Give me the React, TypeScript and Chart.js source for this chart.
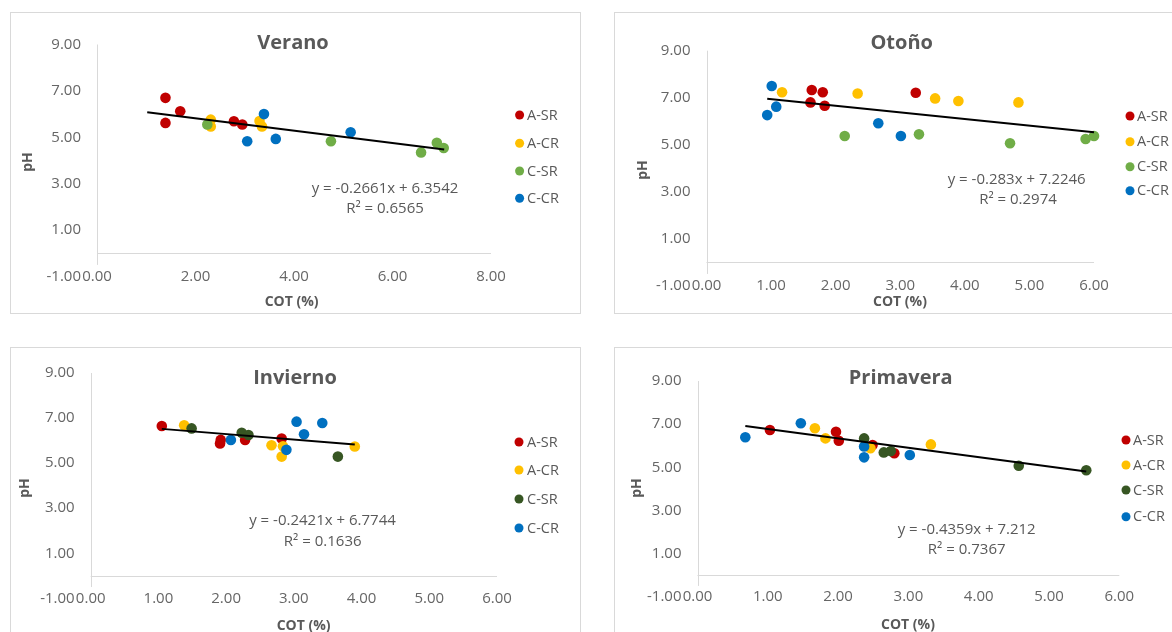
import React, { useEffect, useRef } from 'react';
import { Chart, registerables } from 'chart.js';

Chart.register(...registerables);

// ---------- data ----------
const SERIES_NAMES = ['A-SR', 'A-CR', 'C-SR', 'C-CR'];
const Y_TICKS_MIN = -1;
const Y_TICKS_MAX = 9;
const Y_STEP = 2;

// Verano
const veranoASR: [number, number][] = [[1.39, 6.70], [1.39, 5.62], [1.69, 6.12], [2.78, 5.69], [2.95, 5.55]];
const veranoACR: [number, number][] = [[2.31, 5.76], [2.31, 5.47], [3.30, 5.70], [3.35, 5.47]];
const veranoCSR: [number, number][] = [[2.24, 5.55], [4.75, 4.83], [6.58, 4.35], [6.90, 4.76], [7.04, 4.54]];
const veranoCCR: [number, number][] = [[3.39, 6.00], [3.05, 4.83], [3.63, 4.93], [5.15, 5.22]];
const veranoTrend: [number, number][] = [[1.02, 6.083], [7.05, 4.478]];
const veranoEq = ['y = -0.2661x + 6.3542', 'R² = 0.6565'];

// Otoño
const otonoASR: [number, number][] = [[1.63, 7.33], [1.80, 7.23], [1.61, 6.80], [1.83, 6.66], [3.24, 7.21]];
const otonoACR: [number, number][] = [[1.17, 7.23], [2.34, 7.18], [3.54, 6.97], [3.90, 6.86], [4.83, 6.80]];
const otonoCSR: [number, number][] = [[2.14, 5.37], [3.29, 5.44], [4.70, 5.06], [5.87, 5.24], [6.00, 5.37]];
const otonoCCR: [number, number][] = [[1.01, 7.50], [1.08, 6.62], [0.94, 6.26], [2.66, 5.91], [3.01, 5.37]];
const otonoTrend: [number, number][] = [[0.94, 6.959], [6.0, 5.527]];
const otonoEq = ['y = -0.283x + 7.2246', 'R² = 0.2974'];

// Invierno
const inviernoASR: [number, number][] = [[1.05, 6.65], [1.91, 5.87], [1.92, 6.03], [2.28, 6.03], [2.82, 6.09]];
const inviernoACR: [number, number][] = [[1.38, 6.68], [2.67, 5.79], [2.82, 5.29], [2.84, 5.75], [3.90, 5.74]];
const inviernoCSR: [number, number][] = [[1.49, 6.54], [2.23, 6.35], [2.33, 6.25], [3.65, 5.29]];
const inviernoCCR: [number, number][] = [[2.07, 6.03], [3.04, 6.84], [3.15, 6.28], [3.42, 6.78], [2.89, 5.59]];
const inviernoTrend: [number, number][] = [[1.05, 6.520], [3.90, 5.830]];
const inviernoEq = ['y = -0.2421x + 6.7744', 'R² = 0.1636'];

// Primavera
const primaveraASR: [number, number][] = [[1.03, 6.73], [1.97, 6.65], [2.01, 6.23], [2.49, 6.03], [2.80, 5.65]];
const primaveraACR: [number, number][] = [[1.67, 6.81], [1.82, 6.34], [2.46, 5.88], [3.32, 6.06]];
const primaveraCSR: [number, number][] = [[2.37, 6.34], [2.65, 5.69], [2.75, 5.75], [4.57, 5.07], [5.53, 4.86]];
const primaveraCCR: [number, number][] = [[0.68, 6.39], [1.47, 7.04], [2.37, 5.96], [2.37, 5.46], [3.02, 5.57]];
const primaveraTrend: [number, number][] = [[0.68, 6.916], [5.53, 4.801]];
const primaveraEq = ['y = -0.4359x + 7.212', 'R² = 0.7367'];

// ---------- styles ----------
const FONT = '"Open Sans", "Noto Sans", sans-serif';
const TEXT = '#595959';
const TICK = '#666666';
const AXIS = '#d9d9d9';
const COLORS_LIGHT = ['#c00000', '#ffc000', '#70ad47', '#0070c0'];
const COLORS_DARK = ['#c00000', '#ffc000', '#375623', '#0070c0'];
const TICK_SIZE = 15;

const CW = 569;
const CH = 300;

type Panel = {
  title: string;
  series: [number, number][][];
  trend: [number, number][];
  eq: string[];
  xMax: number;
  xStep: number;
  colors: string[];
  box: { left: number; top: number };
  area: { left: number; top: number; right: number; bottom: number };
  titlePos: [number, number];
  legendX: number;
  legendTextX: number;
  legendRows: number[];
  eqPos: [number, number];
  r2Pos: [number, number];
  phPos: [number, number];
  cotPos: [number, number];
};

const PANELS: Panel[] = [
  {
    title: 'Verano',
    series: [veranoASR, veranoACR, veranoCSR, veranoCCR],
    trend: veranoTrend, eq: veranoEq, xMax: 8, xStep: 2, colors: COLORS_LIGHT,
    box: { left: 10, top: 12 },
    area: { left: 86, top: 31.5, right: 480, bottom: 263.5 },
    titlePos: [282, 30], legendX: 508.6, legendTextX: 516, legendRows: [102, 130.3, 158, 185.3],
    eqPos: [374, 176], r2Pos: [374, 196], phPos: [17, 149], cotPos: [280.6, 288.7],
  },
  {
    title: 'Otoño',
    series: [otonoASR, otonoACR, otonoCSR, otonoCCR],
    trend: otonoTrend, eq: otonoEq, xMax: 6, xStep: 1, colors: COLORS_LIGHT,
    box: { left: 614, top: 12 },
    area: { left: 91.5, top: 37.7, right: 479, bottom: 272.7 },
    titlePos: [286.7, 30.3], legendX: 515, legendTextX: 522, legendRows: [103, 128.7, 153.7, 177.7],
    eqPos: [401.7, 167], r2Pos: [403, 187], phPos: [28.3, 157], cotPos: [285, 288.7],
  },
  {
    title: 'Invierno',
    series: [inviernoASR, inviernoACR, inviernoCSR, inviernoCCR],
    trend: inviernoTrend, eq: inviernoEq, xMax: 6, xStep: 1, colors: COLORS_DARK,
    box: { left: 10, top: 347 },
    area: { left: 79.7, top: 23.7, right: 486, bottom: 250.3 },
    titlePos: [284, 30.3], legendX: 508, legendTextX: 516, legendRows: [94, 122, 151, 180],
    eqPos: [311.5, 173], r2Pos: [311.7, 193.7], phPos: [14, 140], cotPos: [292.6, 278],
  },
  {
    title: 'Primavera',
    series: [primaveraASR, primaveraACR, primaveraCSR, primaveraCCR],
    trend: primaveraTrend, eq: primaveraEq, xMax: 6, xStep: 1, colors: COLORS_DARK,
    box: { left: 614, top: 347 },
    area: { left: 82.5, top: 33, right: 504.3, bottom: 248.7 },
    titlePos: [285.7, 30.3], legendX: 511, legendTextX: 518, legendRows: [92, 117, 142, 168.7],
    eqPos: [351.7, 181.3], r2Pos: [351.7, 202], phPos: [21.7, 140], cotPos: [293, 277],
  },
];

function makeDecor(p: Panel) {
  return {
    id: 'decor',
    beforeDatasetsDraw(chart: any) {
      const { ctx, scales } = chart;
      const x = scales.x;
      const y = scales.y;
      ctx.save();
      ctx.strokeStyle = AXIS;
      ctx.lineWidth = 1;
      const y0 = Math.round(y.getPixelForValue(0)) + 0.5;
      ctx.beginPath();
      ctx.moveTo(x.getPixelForValue(0), y0);
      ctx.lineTo(x.getPixelForValue(p.xMax), y0);
      ctx.stroke();
      const x0 = Math.round(x.getPixelForValue(0)) + 0.5;
      ctx.beginPath();
      ctx.moveTo(x0, y.getPixelForValue(Y_TICKS_MAX));
      ctx.lineTo(x0, y.getPixelForValue(-0.5));
      ctx.stroke();
      ctx.restore();
    },
    afterDraw(chart: any) {
      const { ctx } = chart;
      ctx.save();
      ctx.fillStyle = TEXT;
      ctx.textAlign = 'center';
      ctx.textBaseline = 'middle';
      ctx.font = `bold 20px ${FONT}`;
      ctx.fillText(p.title, p.titlePos[0], p.titlePos[1]);
      ctx.font = `bold 14px ${FONT}`;
      ctx.fillText('COT (%)', p.cotPos[0], p.cotPos[1]);
      ctx.save();
      ctx.translate(p.phPos[0], p.phPos[1]);
      ctx.rotate(-Math.PI / 2);
      ctx.fillText('pH', 0, 0);
      ctx.restore();
      ctx.font = `15px ${FONT}`;
      ctx.fillText(p.eq[0], p.eqPos[0], p.eqPos[1]);
      ctx.fillText(p.eq[1], p.r2Pos[0], p.r2Pos[1]);
      ctx.textAlign = 'left';
      ctx.font = `14.5px ${FONT}`;
      chart.data.datasets.forEach((ds: any, i: number) => {
        if (ds.isTrend) return;
        const ry = p.legendRows[i];
        ctx.fillStyle = ds.backgroundColor;
        ctx.beginPath();
        ctx.arc(p.legendX, ry, 4.5, 0, Math.PI * 2);
        ctx.fill();
        ctx.fillStyle = TEXT;
        ctx.fillText(ds.label, p.legendTextX, ry + 0.5);
      });
      ctx.restore();
    },
  };
}

function PanelChart({ p }: { p: Panel }) {
  const ref = useRef<HTMLCanvasElement>(null);
  useEffect(() => {
    if (!ref.current) return;
    const datasets: any[] = p.series.map((s, i) => ({
      type: 'scatter',
      label: SERIES_NAMES[i],
      data: s.map(([x, y]) => ({ x, y })),
      backgroundColor: p.colors[i],
      borderColor: p.colors[i],
      borderWidth: 0,
      pointRadius: 5.3,
      pointHoverRadius: 5.3,
      order: 4 - i,
      clip: false,
    }));
    datasets.push({
      type: 'line',
      label: 'trend',
      isTrend: true,
      data: p.trend.map(([x, y]) => ({ x, y })),
      borderColor: '#000000',
      borderWidth: 2,
      pointRadius: 0,
      fill: false,
      showLine: true,
      order: 0,
      clip: false,
    });
    const tickFont = { family: FONT, size: TICK_SIZE };
    const chart = new Chart(ref.current, {
      type: 'scatter',
      data: { datasets },
      plugins: [makeDecor(p)],
      options: {
        animation: false,
        responsive: false,
        devicePixelRatio: 1,
        events: [],
        layout: { padding: { left: 0, bottom: 0, top: p.area.top, right: CW - p.area.right } },
        plugins: {
          legend: { display: false },
          title: { display: false },
          tooltip: { enabled: false },
        },
        scales: {
          x: {
            type: 'linear',
            min: 0,
            max: p.xMax,
            grid: { display: false, drawTicks: false },
            border: { display: false },
            ticks: {
              stepSize: p.xStep,
              autoSkip: false,
              maxRotation: 0,
              mirror: true,
              padding: -9,
              color: TICK,
              font: tickFont,
              callback: (v: any) => Number(v).toFixed(2),
            },
            afterFit: (s: any) => { s.height = CH - p.area.bottom; },
          },
          y: {
            type: 'linear',
            min: Y_TICKS_MIN,
            max: Y_TICKS_MAX,
            grid: { display: false, drawTicks: false },
            border: { display: false },
            ticks: {
              stepSize: Y_STEP,
              padding: 16,
              color: TICK,
              font: tickFont,
              callback: (v: any) => Number(v).toFixed(2),
            },
            afterFit: (s: any) => { s.width = p.area.left; },
          },
        },
      } as any,
    });
    return () => chart.destroy();
  }, [p]);
  return (
    <div
      style={{
        position: 'absolute',
        left: p.box.left,
        top: p.box.top,
        width: CW + 2,
        height: CH + 2,
        border: `1px solid ${AXIS}`,
        boxSizing: 'border-box',
        background: '#fff',
      }}
    >
      <canvas ref={ref} width={CW} height={CH} style={{ display: 'block', width: CW, height: CH }} />
    </div>
  );
}

export default function App() {
  return (
    <div
      style={{
        position: 'absolute',
        left: 0,
        top: 0,
        width: 1172,
        height: 632,
        overflow: 'hidden',
        background: '#fff',
      }}
    >
      {PANELS.map((p) => (
        <PanelChart key={p.title} p={p} />
      ))}
    </div>
  );
}
